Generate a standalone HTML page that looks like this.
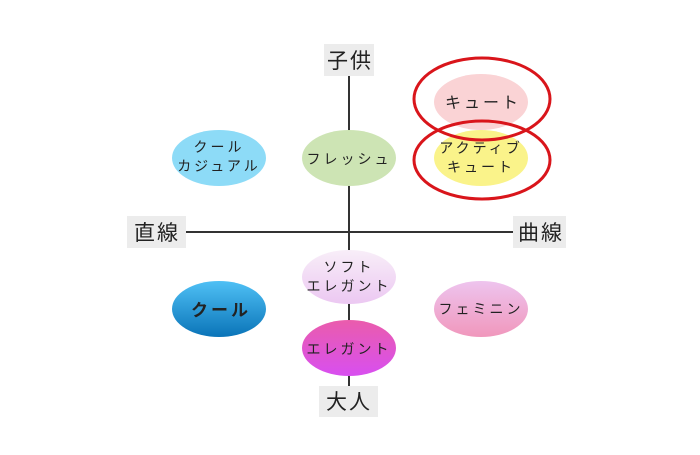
<!DOCTYPE html><html><head><style>body{margin:0;background:#fff}</style></head><body>
<svg width="700" height="450" xmlns="http://www.w3.org/2000/svg" font-family="Liberation Sans, Noto Sans CJK JP, sans-serif">
<defs>
<linearGradient id="cool" x1="0" y1="0" x2="0" y2="1"><stop offset="0" stop-color="#4fc0f5"/><stop offset="1" stop-color="#0a74b8"/></linearGradient>
<linearGradient id="soft" x1="0" y1="0" x2="0" y2="1"><stop offset="0" stop-color="#f8eef8"/><stop offset="1" stop-color="#ecc8f2"/></linearGradient>
<linearGradient id="fem" x1="0" y1="0" x2="0" y2="1"><stop offset="0" stop-color="#eec4ee"/><stop offset="1" stop-color="#f097bc"/></linearGradient>
<linearGradient id="ele" x1="0" y1="0" x2="0" y2="1"><stop offset="0" stop-color="#ea5cac"/><stop offset="1" stop-color="#d84ff0"/></linearGradient>
</defs>
<line x1="349" y1="76" x2="349" y2="386" stroke="#333" stroke-width="2"/>
<line x1="185" y1="232" x2="513" y2="232" stroke="#333" stroke-width="2"/>
<rect x="324" y="44" width="50" height="32" fill="#ececec"/>
<rect x="127" y="216" width="59" height="32" fill="#ececec"/>
<rect x="513" y="216" width="53" height="32" fill="#ececec"/>
<rect x="319" y="386" width="59" height="31" fill="#ececec"/>
<g font-size="21" fill="#222" text-anchor="middle" letter-spacing="2">
<text x="350" y="68">子供</text><text x="157" y="240">直線</text><text x="541" y="240">曲線</text><text x="349" y="409">大人</text>
</g>
<ellipse cx="219" cy="158" rx="47" ry="28" fill="#8ddbf7"/>
<ellipse cx="349" cy="158" rx="47" ry="28" fill="#cde4b4"/>
<ellipse cx="481" cy="102" rx="47" ry="28" fill="#fad3d5"/>
<ellipse cx="481" cy="158" rx="47" ry="28" fill="#faf38a"/>
<ellipse cx="349" cy="277" rx="47" ry="27" fill="url(#soft)"/>
<ellipse cx="219" cy="309" rx="47" ry="28" fill="url(#cool)"/>
<ellipse cx="481" cy="309" rx="47" ry="28" fill="url(#fem)"/>
<ellipse cx="349" cy="348" rx="47" ry="28" fill="url(#ele)"/>
<ellipse cx="482" cy="99" rx="68" ry="41" fill="none" stroke="#d9151b" stroke-width="3"/>
<ellipse cx="482" cy="160" rx="68" ry="39" fill="none" stroke="#d9151b" stroke-width="3"/>
<g font-size="14" fill="#222" text-anchor="middle" letter-spacing="3">
<text x="219" y="152">クール</text><text x="219" y="171">カジュアル</text>
<text x="349" y="164">フレッシュ</text>
<text x="483" y="108" font-size="16">キュート</text>
<text x="481" y="153">アクティブ</text><text x="481" y="172">キュート</text>
<text x="349" y="272">ソフト</text><text x="349" y="291">エレガント</text>
<text x="221" y="316" font-size="17" font-weight="bold">クール</text>
<text x="481" y="314">フェミニン</text>
<text x="349" y="354">エレガント</text>
</g>
</svg></body></html>
